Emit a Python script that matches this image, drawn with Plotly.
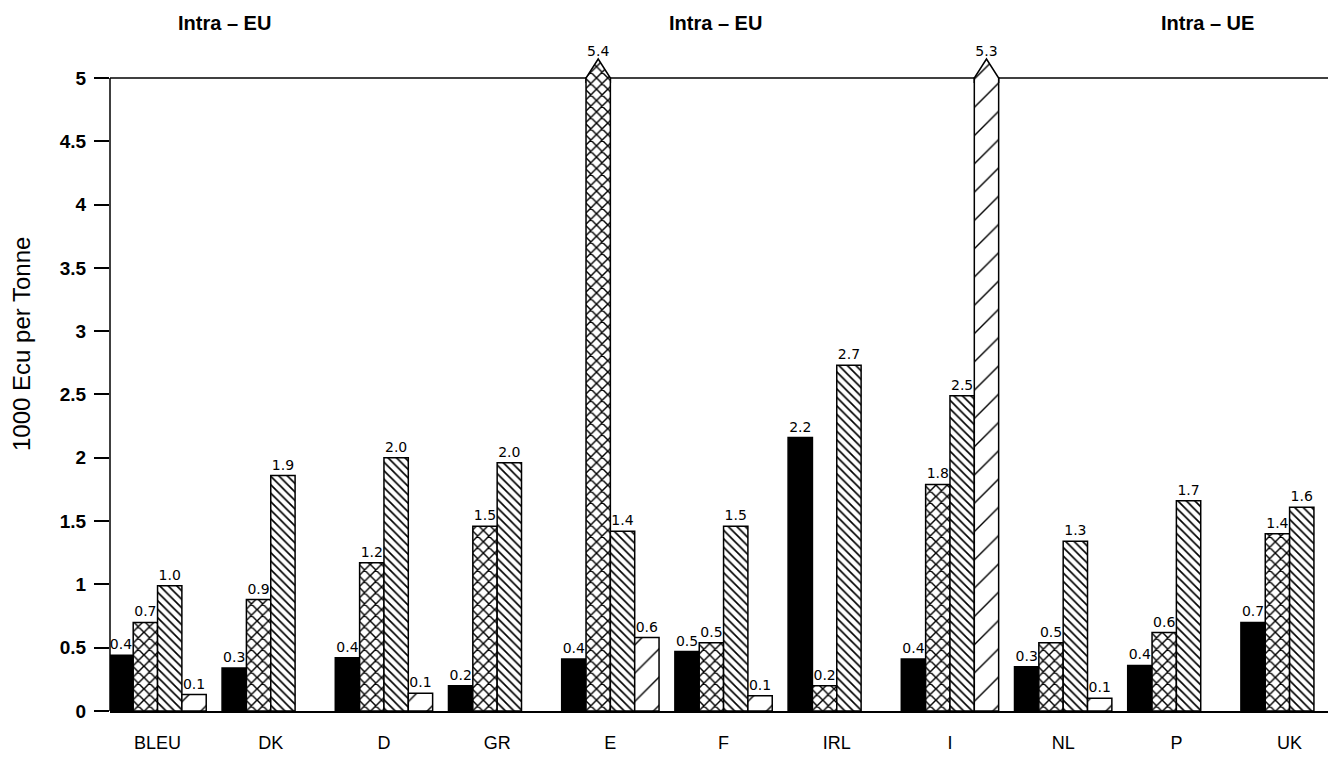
import plotly.graph_objects as go

# ---------------- data ----------------
categories = ["BLEU", "DK", "D", "GR", "E", "F", "IRL", "I", "NL", "P", "UK"]
black_vals = [0.44, 0.34, 0.42, 0.20, 0.41, 0.47, 2.16, 0.41, 0.35, 0.36, 0.70]
cross_vals = [0.70, 0.88, 1.17, 1.46, 5.40, 0.54, 0.20, 1.79, 0.54, 0.62, 1.40]
back_vals = [0.99, 1.86, 2.00, 1.96, 1.42, 1.46, 2.73, 2.49, 1.34, 1.66, 1.61]
slash_vals = [0.13, None, 0.14, None, 0.58, 0.12, None, 5.30, 0.10, None, None]
section_titles = ["Intra – EU", "Intra – EU", "Intra – UE"]
y_tick_vals = [0, 0.5, 1, 1.5, 2, 2.5, 3, 3.5, 4, 4.5, 5]
y_title = "1000 Ecu per Tonne"

# ---------------- style ----------------
CAP = 5.0          # top of the framed area; taller bars get an arrow tip
ARROW_H = 0.15
BAR_W = 0.215
LINE_W = 1.5
series = [
    dict(vals=black_vals, solid=True),
    dict(vals=cross_vals, shape="x", size=8, solidity=0.33),
    dict(vals=back_vals, shape="\\", size=6, solidity=0.28),
    dict(vals=slash_vals, shape="/", size=20, solidity=0.07),
]
VAL_FONT = dict(family="DejaVu Sans", size=14, color="black")

fig = go.Figure()
n = len(categories)

for k, s in enumerate(series):
    xs = [i + (k - 1.5) * BAR_W for i in range(n)]
    ys = [None if v is None else min(v, CAP) for v in s["vals"]]
    txt = ["" if (v is None or v > CAP) else f"{v:.1f}" for v in s["vals"]]
    if s.get("solid"):
        marker = dict(color="black", line=dict(color="black", width=LINE_W))
    else:
        marker = dict(color="white", line=dict(color="black", width=LINE_W),
                      pattern=dict(shape=s["shape"], size=s["size"], solidity=s["solidity"],
                                   fgcolor="black", bgcolor="white", fillmode="replace"))
    fig.add_trace(go.Bar(x=xs, y=ys, width=BAR_W, marker=marker, text=txt,
                         textposition="outside", textfont=VAL_FONT, constraintext="none",
                         cliponaxis=False, showlegend=False, hoverinfo="skip"))

    # arrow tips for values beyond the frame
    for i, v in enumerate(s["vals"]):
        if v is None or v <= CAP:
            continue
        xc = xs[i]
        left, right = xc - BAR_W / 2, xc + BAR_W / 2
        lo = CAP - 0.04
        fill_kw = dict(fillcolor="white")
        if not s.get("solid"):
            fill_kw["fillpattern"] = dict(shape=s["shape"], size=s["size"], solidity=s["solidity"],
                                          fgcolor="black", bgcolor="white", fillmode="replace")
        fig.add_trace(go.Scatter(x=[left, left, xc, right, right, left],
                                 y=[lo, CAP, CAP + ARROW_H, CAP, lo, lo],
                                 mode="lines", fill="toself",
                                 line=dict(width=0, color="rgba(0,0,0,0)"),
                                 showlegend=False, hoverinfo="skip", **fill_kw))
        fig.add_trace(go.Scatter(x=[left, left, xc, right, right],
                                 y=[lo, CAP, CAP + ARROW_H, CAP, lo],
                                 mode="lines", line=dict(color="black", width=LINE_W),
                                 showlegend=False, hoverinfo="skip"))
        fig.add_trace(go.Scatter(x=[xc], y=[CAP + ARROW_H], mode="text",
                                 text=[f"{v:.1f}"], textposition="top center",
                                 textfont=VAL_FONT, showlegend=False, hoverinfo="skip",
                                 cliponaxis=False))

# frame lines: left axis up to 5 and the top rule at 5
fig.add_shape(type="line", xref="paper", yref="y", x0=0, x1=0, y0=0, y1=CAP,
              line=dict(color="black", width=LINE_W), layer="below")
fig.add_shape(type="line", xref="paper", yref="y", x0=0, x1=1, y0=CAP, y1=CAP,
              line=dict(color="black", width=LINE_W), layer="below")

# section headers
for title, xp in zip(section_titles, [0.093, 0.4935, 0.895]):
    fig.add_annotation(text=title, xref="paper", yref="paper", x=xp, y=0.981,
                       showarrow=False, xanchor="center", yanchor="middle",
                       font=dict(family="Liberation Sans", size=20, color="black", weight="bold"))

fig.add_annotation(text=y_title, xref="paper", yref="paper", x=-0.0726, y=0.5235,
                   textangle=-90, showarrow=False, xanchor="center", yanchor="middle",
                   font=dict(family="Liberation Sans", size=24, color="black"))

# the page body adds an 8px offset, so margins are shifted to compensate
fig.update_layout(
    width=1336, height=758,
    margin=dict(l=102, r=8, t=2, b=55, autoexpand=False),
    paper_bgcolor="white", plot_bgcolor="white",
    barmode="overlay", showlegend=False,
    xaxis=dict(range=[-0.42, 10.41], tickmode="array", tickvals=list(range(n)),
               ticktext=categories, showgrid=False, zeroline=False, automargin=False,
               showline=True, linecolor="black", linewidth=LINE_W, ticks="",
               ticklabelstandoff=15,
               tickfont=dict(family="Liberation Sans", size=18, color="black")),
    yaxis=dict(range=[0, 5.537], tickmode="array", tickvals=y_tick_vals,
               showgrid=False, zeroline=False, showline=False, automargin=False,
               ticks="outside", ticklen=15, tickwidth=2, tickcolor="black",
               ticklabelstandoff=4,
               tickfont=dict(family="Liberation Sans", size=19, color="black", weight="bold")),
)

fig.write_html("out.html")
